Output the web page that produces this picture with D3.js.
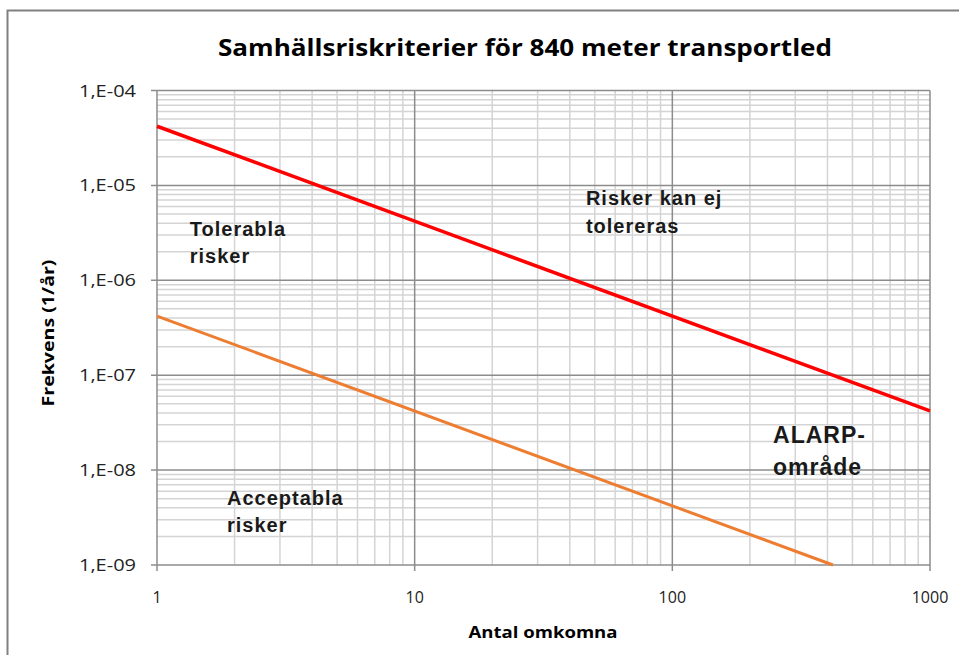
<!DOCTYPE html>
<html>
<head>
<meta charset="utf-8">
<script src="https://d3js.org/d3.v7.min.js"></script>
<style>
  body { margin: 0; background: #fff; font-family: "Open Sans", sans-serif; }
</style>
</head>
<body>
<script>
var width = 959, height = 655;

// data
var xTicks = [1, 10, 100, 1000];
var yTicks = [1e-4, 1e-5, 1e-6, 1e-7, 1e-8, 1e-9];
var yTickLabels = ["1,E-04", "1,E-05", "1,E-06", "1,E-07", "1,E-08", "1,E-09"];
var upperN = [1, 1000];
var upperF = [4.2e-5, 4.2e-8];
var lowerN = [1, 420];
var lowerF = [4.2e-7, 1e-9];
var regionText = [
  { lines: ["Tolerabla", "risker"], n: 1.34, f: 2.93e-6, size: 20 },
  { lines: ["Risker kan ej", "tolereras"], n: 46.2, f: 6.2e-6, size: 20 },
  { lines: ["ALARP-", "område"], n: 246, f: 1.93e-8, size: 23 },
  { lines: ["Acceptabla", "risker"], n: 1.87, f: 4.28e-9, size: 20 }
];

var mLeft = 157, mRight = 930, mTop = 90.5, mBottom = 565;

var x = d3.scaleLog().domain([1, 1000]).range([mLeft, mRight]);
var y = d3.scaleLog().domain([1e-9, 1e-4]).range([mBottom, mTop]);

var svg = d3.select("body").append("svg")
  .attr("width", width).attr("height", height);

// outer frame
svg.append("rect")
  .attr("x", 7.5).attr("y", 10.5)
  .attr("width", 960).attr("height", 660)
  .attr("fill", "none").attr("stroke", "#808080").attr("stroke-width", 2);

svg.append("text")
  .attr("x", 525).attr("y", 56)
  .attr("text-anchor", "middle")
  .attr("font-size", 24).attr("font-weight", "bold")
  .attr("textLength", 614).attr("lengthAdjust", "spacingAndGlyphs")
  .text("Samhällsriskriterier för 840 meter transportled");

var grid = svg.append("g");

// minor grid
var xMinor = [], yMinor = [];
for (var d = 1; d < 1000; d *= 10)
  for (var k = 2; k <= 9; k++) xMinor.push(d * k);
for (var e = 1e-9; e < 1e-4 * 0.99; e *= 10)
  for (var k = 2; k <= 9; k++) yMinor.push(e * k);

grid.selectAll(".xm").data(xMinor).enter().append("line")
  .attr("x1", d => x(d)).attr("x2", d => x(d))
  .attr("y1", mTop).attr("y2", mBottom)
  .attr("stroke", "#d4d4d4").attr("stroke-width", 1.5);
grid.selectAll(".ym").data(yMinor).enter().append("line")
  .attr("x1", mLeft).attr("x2", mRight)
  .attr("y1", d => y(d)).attr("y2", d => y(d))
  .attr("stroke", "#d4d4d4").attr("stroke-width", 1.5);

// major grid
grid.selectAll(".xM").data(xTicks).enter().append("line")
  .attr("x1", d => x(d)).attr("x2", d => x(d))
  .attr("y1", mTop).attr("y2", mBottom + 6)
  .attr("stroke", "#8c8c8c").attr("stroke-width", 1.5);
grid.selectAll(".yM").data(yTicks).enter().append("line")
  .attr("x1", mLeft - 6).attr("x2", mRight)
  .attr("y1", d => y(d)).attr("y2", d => y(d))
  .attr("stroke", "#8c8c8c").attr("stroke-width", 1.5);

// tick labels
svg.selectAll(".yl").data(yTicks).enter().append("text")
  .attr("x", 136).attr("y", d => y(d) + 6)
  .attr("text-anchor", "end").attr("font-size", 16).attr("fill", "#222")
  .attr("textLength", 57).attr("lengthAdjust", "spacingAndGlyphs")
  .text((d, i) => yTickLabels[i]);
svg.selectAll(".xl").data(xTicks).enter().append("text")
  .attr("x", d => x(d)).attr("y", 603)
  .attr("text-anchor", "middle").attr("font-size", 16).attr("fill", "#222")
  .text(d => d);

// axis titles
svg.append("text")
  .attr("x", 543).attr("y", 638)
  .attr("text-anchor", "middle").attr("font-size", 16).attr("font-weight", "bold")
  .attr("textLength", 149).attr("lengthAdjust", "spacingAndGlyphs")
  .text("Antal omkomna");
svg.append("text")
  .attr("transform", "translate(54,333) rotate(-90)")
  .attr("text-anchor", "middle").attr("font-size", 16).attr("font-weight", "bold")
  .attr("textLength", 147).attr("lengthAdjust", "spacingAndGlyphs")
  .text("Frekvens (1/år)");

var line = d3.line().x(d => x(d[0])).y(d => y(d[1]));

svg.append("path")
  .datum(upperN.map((n, i) => [n, upperF[i]]))
  .attr("d", line).attr("fill", "none")
  .attr("stroke", "#ff0000").attr("stroke-width", 3.5);
svg.append("path")
  .datum(lowerN.map((n, i) => [n, lowerF[i]]))
  .attr("d", line).attr("fill", "none")
  .attr("stroke", "#ed7d31").attr("stroke-width", 3);

// region labels
regionText.forEach(function (r) {
  var t = svg.append("text")
    .attr("x", x(r.n)).attr("y", y(r.f))
    .attr("font-family", "Liberation Sans, Arial, sans-serif")
    .attr("font-weight", "bold").attr("letter-spacing", 1)
    .attr("font-size", r.size).attr("fill", "#1a1a1a");
  r.lines.forEach(function (s, i) {
    t.append("tspan").attr("x", x(r.n)).attr("dy", i === 0 ? 0 : r.size * 1.37).text(s);
  });
});
</script>
</body>
</html>
